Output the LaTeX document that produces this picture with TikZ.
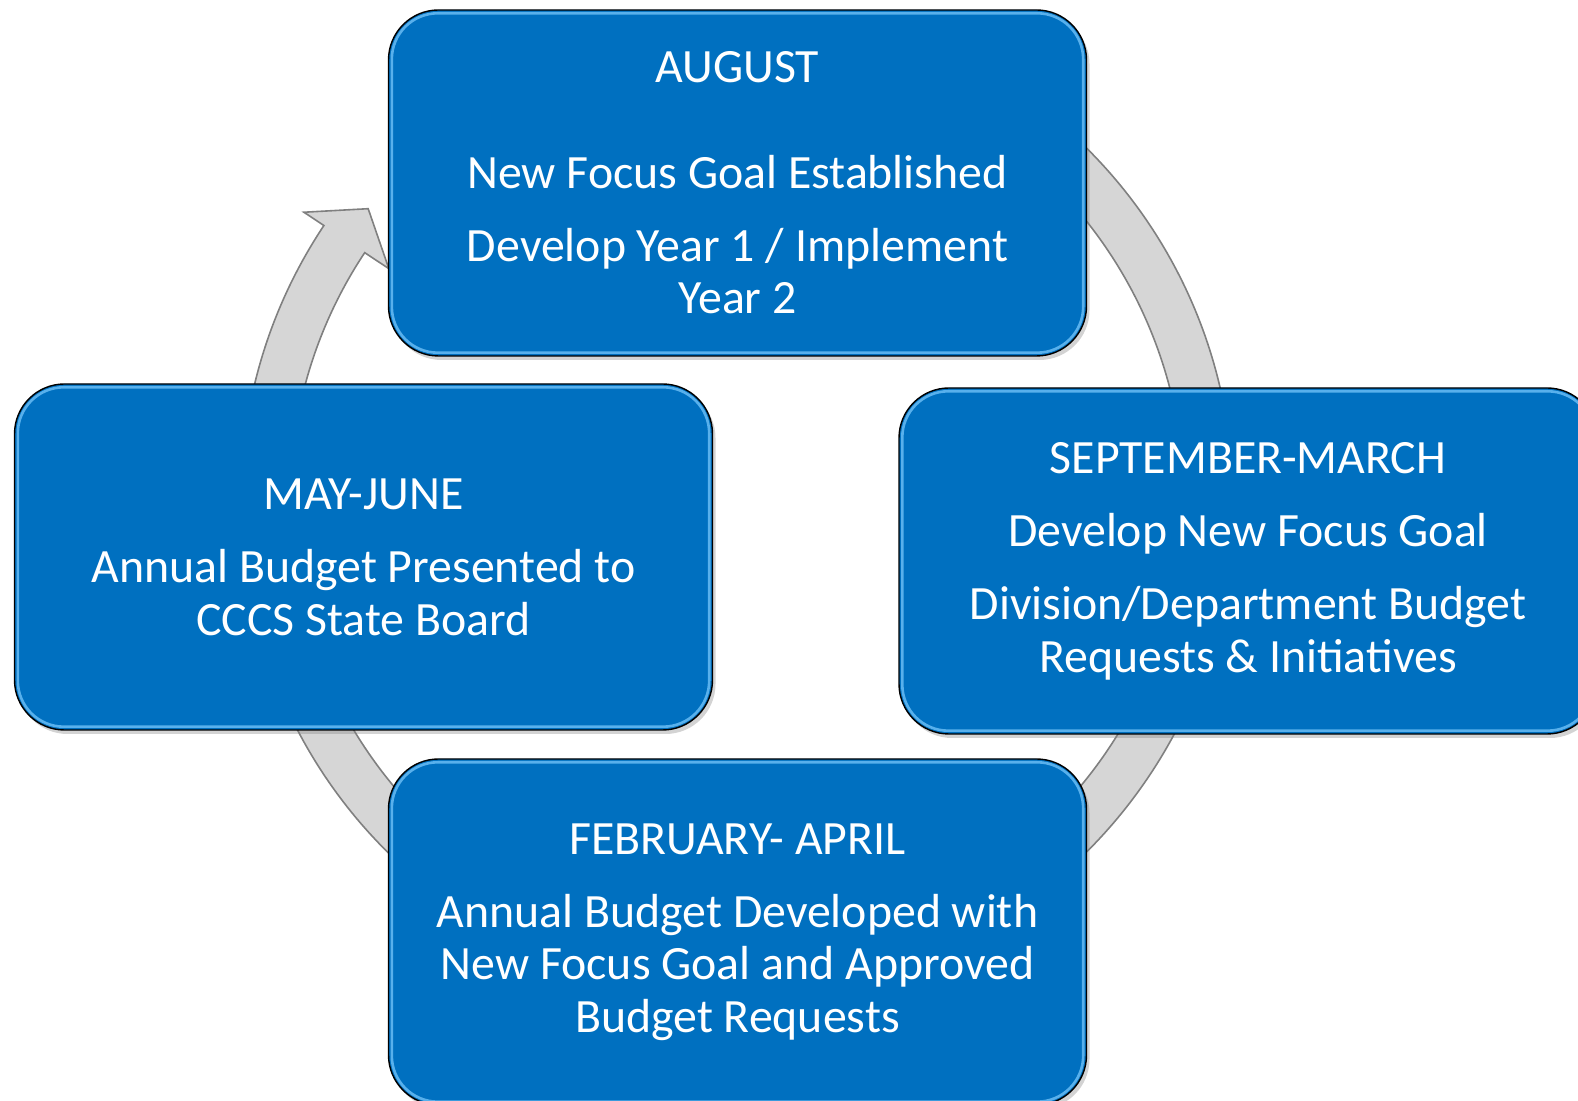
\documentclass[tikz,border=0pt]{standalone}
\usepackage{fontspec}
\setmainfont{Carlito}
\usetikzlibrary{shadows}
\definecolor{boxblue}{RGB}{0,112,192}
\definecolor{rimblue}{RGB}{110,193,247}
\definecolor{ringgray}{RGB}{214,214,214}
\definecolor{ringedge}{RGB}{128,128,128}
\tikzset{
  stage/.style={draw=black, line width=0.7pt, fill=boxblue, rounded corners=25pt,
    minimum width=349pt, minimum height=173pt, align=center, text=white,
    font=\fontsize{23.9}{26.2}\selectfont,
    drop shadow={shadow xshift=1.5pt, shadow yshift=-2pt, opacity=0.35}},
  rim/.style={draw=rimblue, line width=1.3pt, rounded corners=23pt, opacity=0.8},
  ringarrow/.style={fill=ringgray, draw=ringedge, line width=0.8pt, line join=miter}
}
\begin{document}
\begin{tikzpicture}[x=0.5pt,y=0.5pt]
  \useasboundingbox (0,0) rectangle (1578,1101);
  \clip (0,0) rectangle (1578,1101);
  \coordinate (hub) at (737,601);
  % the cycle arrow runs behind the four stages
  \draw[ringarrow] ([shift={(hub)}]146.4:496) arc[start angle=146.4, end angle=430, radius=496]
    -- ([shift={(hub)}]70:447) arc[start angle=430, end angle=146.4, radius=447]
    -- ([shift={(hub)}]146.4:418) -- ([shift={(hub)}]141.7:470)
    -- ([shift={(hub)}]146.4:520) -- cycle;
  % stages
  \node[stage] (aug) at (737.5,918)
    {AUGUST\\[26.5pt]New Focus Goal Established\\[10.5pt]Develop Year 1 / Implement\\Year 2};
  \node[stage] (sepmar) at (1248,540)
    {SEPTEMBER-MARCH\\[10.5pt]Develop New Focus Goal\\[10.5pt]Division/Department Budget\\Requests \& Initiatives};
  \node[stage] (mayjun) at (363.5,544)
    {MAY-JUNE\\[10.5pt]Annual Budget Presented to\\CCCS State Board};
  \node[stage] (febapr) at (737.5,169)
    {FEBRUARY- APRIL\\[10.5pt]Annual Budget Developed with\\New Focus Goal and Approved\\Budget Requests};
  \foreach \n in {aug,sepmar,mayjun,febapr}
    \draw[rim] ([shift={(2pt,2pt)}]\n.south west) rectangle ([shift={(-2pt,-2pt)}]\n.north east);
\end{tikzpicture}
\end{document}
